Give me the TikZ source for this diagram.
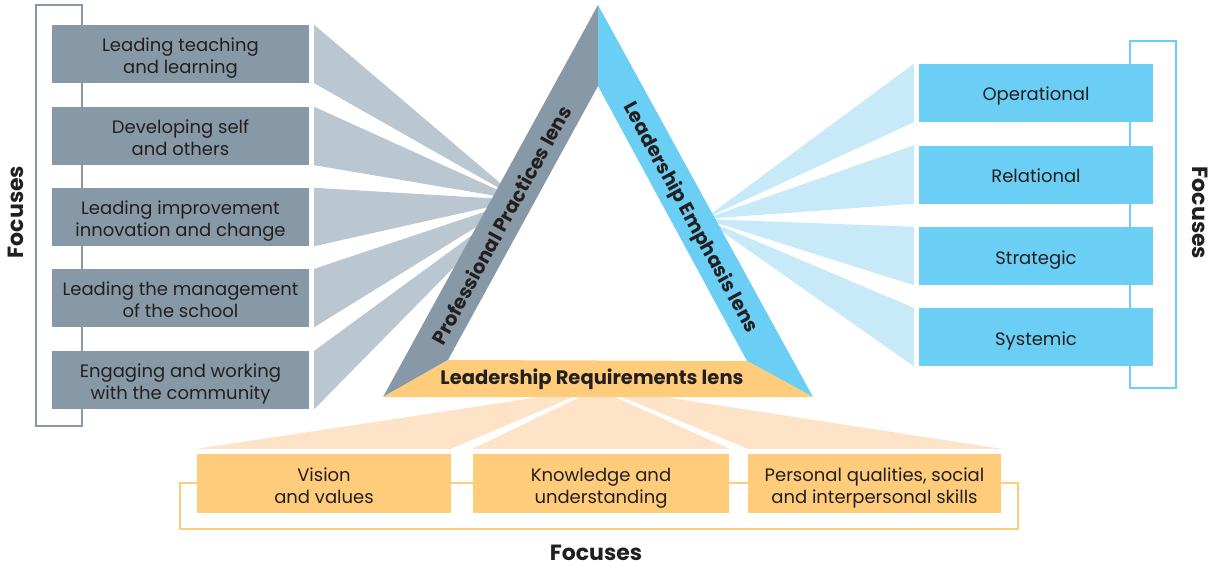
\documentclass[tikz,border=0pt]{standalone}
\usepackage{fontspec}
\setmainfont{Poppins}
\usepackage{tikz}

\definecolor{ppgray}{HTML}{8799A6}
\definecolor{ppfan}{HTML}{BAC7D1}
\definecolor{leblue}{HTML}{6BCEF4}
\definecolor{lefan}{HTML}{C7E9F8}
\definecolor{lryellow}{HTML}{FECC7B}
\definecolor{lrfan}{HTML}{FDE4C9}
\definecolor{textdark}{HTML}{231F20}

\begin{document}
\begin{tikzpicture}[x=1pt,y=-1pt,
  focus/.style={minimum height=58pt,inner sep=0pt,align=center,text=textdark,
    font=\fontsize{18}{22}\selectfont,text height=20pt,text depth=4pt},
  twoline/.style={text height=43pt},
  lens/.style={font=\bfseries\fontsize{19.5}{22}\selectfont,text=textdark},
  focuses/.style={font=\bfseries\fontsize{22}{24}\selectfont,text=textdark}]

  \useasboundingbox (0,0) rectangle (1212,567);

  % brackets behind the boxes
  \draw[ppgray,line width=2.5pt] (36,5) rectangle (82,426);
  \draw[leblue,line width=2.5pt] (1130,41) rectangle (1176,388);
  \draw[lryellow,line width=2.5pt] (180,483) rectangle (1018,529);

  % focus boxes
  \node[focus,twoline,fill=ppgray,minimum width=257pt] (pp1) at (180.5,54)  {Leading teaching\\and learning};
  \node[focus,twoline,fill=ppgray,minimum width=257pt] (pp2) at (180.5,136) {Developing self\\and others};
  \node[focus,twoline,fill=ppgray,minimum width=257pt] (pp3) at (180.5,217) {Leading improvement\\innovation and change};
  \node[focus,twoline,fill=ppgray,minimum width=257pt] (pp4) at (180.5,298) {Leading the management\\of the school};
  \node[focus,twoline,fill=ppgray,minimum width=257pt] (pp5) at (180.5,380) {Engaging and working\\with the community};

  \node[focus,fill=leblue,minimum width=234pt] (le1) at (1036,93)    {Operational};
  \node[focus,fill=leblue,minimum width=234pt] (le2) at (1036,174.5) {Relational};
  \node[focus,fill=leblue,minimum width=234pt] (le3) at (1036,256)   {Strategic};
  \node[focus,fill=leblue,minimum width=234pt] (le4) at (1036,337)   {Systemic};

  \node[focus,twoline,fill=lryellow,minimum width=254pt,minimum height=59pt] (lr1) at (324,483.5)   {Vision\\and values};
  \node[focus,twoline,fill=lryellow,minimum width=256pt,minimum height=59pt] (lr2) at (601,483.5)   {Knowledge and\\understanding};
  \node[focus,twoline,fill=lryellow,minimum width=253pt,minimum height=59pt] (lr3) at (874.5,483.5) {Personal qualities, social\\and interpersonal skills};

  % triangle corners
  \coordinate (top)  at (598,5);
  \coordinate (topin) at (598,86);
  \coordinate (bl)   at (383,397);
  \coordinate (blin) at (448,360);
  \coordinate (br)   at (813,397);
  \coordinate (brin) at (747,361);
  \coordinate (ppfoc) at (520,200);
  \coordinate (lefoc) at (704,219);

  % fans
  \foreach \b in {pp1,pp2,pp3,pp4,pp5}
    \fill[ppfan] ([xshift=5pt]\b.north east) -- ([xshift=5pt]\b.south east) -- (ppfoc) -- cycle;
  \foreach \b in {le1,le2,le3,le4}
    \fill[lefan] ([xshift=-5pt]\b.north west) -- ([xshift=-5pt]\b.south west) -- (lefoc) -- cycle;
  \fill[lrfan] ([yshift=5pt]lr1.north west) -- ([yshift=5pt]lr1.north east) -- (573,397) -- (540,397) -- cycle;
  \fill[lrfan] ([yshift=5pt]lr2.north west) -- ([yshift=5pt]lr2.north east) -- (615,397) -- (580,397) -- cycle;
  \fill[lrfan] ([yshift=5pt]lr3.north west) -- ([yshift=5pt]lr3.north east) -- (665,397) -- (622,397) -- cycle;

  % the three lenses
  \fill[ppgray]   (top) -- (topin) -- (blin) -- (bl) -- cycle;
  \fill[leblue]   (top) -- (br) -- (brin) -- (topin) -- cycle;
  \fill[lryellow] (blin) -- (brin) -- (br) -- (bl) -- cycle;

  \node[lens,rotate=61.25]  (pplens) at (501,225) {Professional Practices lens};
  \node[lens,rotate=-61.25] (lelens) at (690,218) {Leadership Emphasis lens};
  \node[lens]               (lrlens) at (592,379) {Leadership Requirements lens};

  \node[focuses,rotate=90]  (ppfocuses) at (16,212)  {Focuses};
  \node[focuses,rotate=-90] (lefocuses) at (1200,213) {Focuses};
  \node[focuses]            (lrfocuses) at (596,553) {Focuses};
\end{tikzpicture}
\end{document}
